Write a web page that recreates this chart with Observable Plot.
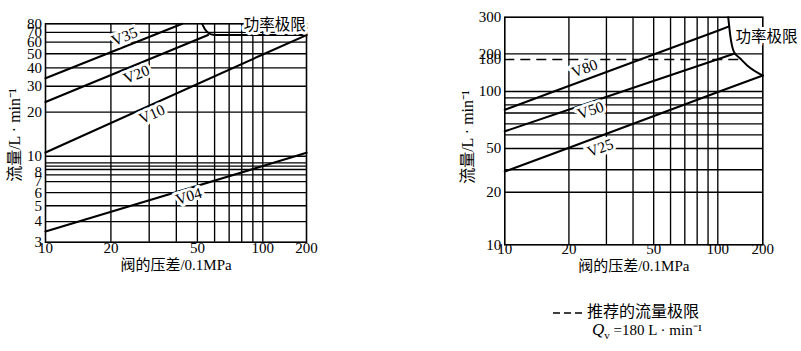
<!DOCTYPE html>
<html><head><meta charset="utf-8">
<script src="https://cdn.jsdelivr.net/npm/d3@7"></script>
<script src="https://cdn.jsdelivr.net/npm/@observablehq/plot@0.6"></script>
<style>
body{margin:0;background:#fff;}
#wrap{position:relative;width:801px;height:351px;overflow:hidden;background:#fff;font-family:'Liberation Serif','Noto Sans CJK SC',serif;color:#000;}
#left{position:absolute;left:0;top:0;}
#right{position:absolute;left:400px;top:0;}
.leg{position:absolute;white-space:nowrap;line-height:1;}
.ylab{position:absolute;white-space:nowrap;line-height:1;font-size:16px;transform:translate(-50%,-50%) rotate(-90deg);}
</style></head><body>
<div id="wrap"><div id="left"></div><div id="right"></div>
<div class="ylab" id="ylabL" style="left:14.5px;top:135px;"></div>
<div class="ylab" id="ylabR" style="left:468px;top:137px;"></div>
<div class="leg" id="leg1" style="left:552px;top:302px;font-size:16px;font-family:'Noto Sans CJK SC',sans-serif;">
<svg width="32" height="10" style="vertical-align:middle;margin-right:3px"><line x1="1" y1="5" x2="31" y2="5" stroke="#000" stroke-width="1.5" stroke-dasharray="7,4"/></svg><span id="legText1"></span></div>
<div class="leg" id="leg2" style="left:592px;top:321px;font-size:15px;"><i style="font-size:17px">Q</i><sub style="font-size:11px">v</sub> <span id="legText2"></span></div>
</div>
<script>
// ---------- Left chart data ----------
const leftXTicks = [10, 20, 50, 100, 200];
const leftYTicks = [3, 4, 5, 6, 7, 8, 10, 20, 30, 40, 50, 60, 70, 80];
const leftXGrid = [20, 30, 40, 50, 60, 70, 80, 90, 100];
const leftYGrid = [4, 5, 6, 7, 7.7, 8.3, 8.7, 9.1, 10, 20, 30, 40, 50, 60, 70];
const leftSeries = ["V35", "V20", "V10", "V04"];
const leftSeriesX = [[10, 42.6], [10, 56], [10, 100, 200], [10, 100, 167, 200]];
const leftSeriesY = [[34, 80], [23.4, 67], [10.6, 49.4, 67], [3.49, 8.72, 10, 10.55]];
const leftLimitX = [52.6, 54, 56, 59, 63, 200];
const leftLimitY = [80, 74, 69.5, 67.3, 67, 67];
const leftLabelX = [23.1, 26.2, 30.9, 45.6];
const leftLabelY = [65.5, 36.1, 19.3, 5.7];
const leftLimitLabel = {x: 121, y: 77.9, text: "功率极限"};

// ---------- Right chart data ----------
const rightXTicks = [10, 20, 50, 100, 200];
const rightYTicks = [10, 20, 50, 100, 180, 200, 300];
const rightXGrid = [20, 30, 40, 50, 60, 70, 80, 90, 100];
const rightYGrid = [20, 32, 50, 59, 67.5, 77, 85, 92.5, 100, 200];
const rightSeries = ["V80", "V50", "V25"];
const rightSeriesX = [[10, 17, 51.1, 100, 119], [10, 35.6, 100, 128], [10, 19.6, 102.5, 200]];
const rightSeriesY = [[80, 100, 200, 258, 271], [61.6, 100, 181, 200], [30.8, 50, 100, 134]];
const rightLimitX = [117.4, 121.6, 128, 141.9, 157.3, 200];
const rightLimitY = [300, 240.5, 205, 182.4, 161.3, 134];
const recommendedX = [10, 143];
const recommendedY = 180;
const rightLabelX = [23.7, 25.3, 28.1];
const rightLabelY = [152.6, 79.4, 50.3];
const rightLimitLabel = {x: 212, y: 242, text: "功率极限"};

const xAxisLabel = "阀的压差/0.1MPa";
const yAxisLabel = "流量/L · min⁻¹";
const legendLine1 = "推荐的流量极限";
const legendLine2 = "=180 L · min⁻¹";

// ---------- helpers ----------
const serif = "Liberation Serif, Noto Sans CJK SC, serif";
const cjk = "Noto Sans CJK SC, Liberation Serif, sans-serif";
function table(names, xs, ys) {
  return names.flatMap((s, i) => xs[i].map((x, j) => ({s, x, y: ys[i][j]})));
}
function pairs(xs, ys) { return xs.map((x, i) => ({x, y: ys[i]})); }

function chart(cfg) {
  const lines = table(cfg.series, cfg.sx, cfg.sy);
  const labels = cfg.series.map((s, i) => ({s, x: cfg.lx[i], y: cfg.ly[i]}));
  const marks = [
    Plot.ruleX(cfg.xGrid, {stroke: "#000", strokeWidth: 1.35}),
    Plot.ruleY(cfg.yGrid, {stroke: "#000", strokeWidth: 1.35}),
    Plot.frame({stroke: "#000", strokeWidth: 1.6}),
    ...(cfg.extra || []),
    Plot.line(lines, {x: "x", y: "y", z: "s", stroke: "#000", strokeWidth: 2.1}),
    Plot.line(pairs(cfg.limX, cfg.limY), {x: "x", y: "y", curve: "monotone-x", stroke: "#000", strokeWidth: 2}),
    ...labels.map((d, i) => Plot.text([d], {x: "x", y: "y", text: "s", rotate: cfg.angles[i],
      fontSize: 15.5, fontFamily: serif, fill: "#000", stroke: "white", strokeWidth: 6})),
    Plot.text([cfg.limLabel], {x: "x", y: "y", text: "text", fontSize: 15.5, fontFamily: cjk,
      fill: "#000", stroke: "white", strokeWidth: 6}),
    Plot.text(cfg.yTicks, {y: d => d, frameAnchor: "left", text: d => String(d), textAnchor: "end",
      dx: -3.5, fontSize: 15, fontFamily: serif, fill: "#000"}),
    Plot.text(cfg.xTicks, {x: d => d, frameAnchor: "bottom", text: d => String(d),
      dy: cfg.xTickDy, fontSize: 15, fontFamily: serif, fill: "#000"}),
    Plot.text([xAxisLabel], {frameAnchor: "bottom", text: d => d, dy: cfg.xLabelDy,
      fontSize: 15, fontFamily: serif, fill: "#000"})
  ];
  return Plot.plot({
    width: cfg.width, height: 290,
    marginLeft: cfg.xr[0], marginRight: cfg.width - cfg.xr[2],
    marginTop: cfg.yr[cfg.yr.length - 1], marginBottom: 290 - cfg.yr[0],
    x: {type: "log", domain: cfg.xd, range: cfg.xr, axis: null},
    y: {type: "log", domain: cfg.yd, range: cfg.yr, axis: null},
    style: {background: "white", color: "black", fontFamily: serif, overflow: "visible"},
    marks
  });
}

document.getElementById("left").appendChild(chart({
  width: 400,
  xd: [10, 100, 200], xr: [45, 262.3, 306],
  yd: [3, 10, 80], yr: [241.7, 155.7, 23.3],
  xGrid: leftXGrid, yGrid: leftYGrid, xTicks: leftXTicks, yTicks: leftYTicks,
  series: leftSeries, sx: leftSeriesX, sy: leftSeriesY,
  limX: leftLimitX, limY: leftLimitY, limLabel: leftLimitLabel,
  lx: leftLabelX, ly: leftLabelY, angles: [-22, -22, -24, -17],
  xTickDy: 11, xLabelDy: 28
}));

document.getElementById("right").appendChild(chart({
  width: 401,
  xd: [10, 100, 200], xr: [104.3, 317.3, 362.3],
  yd: [10, 20, 50, 100, 200, 300], yr: [244.3, 191.7, 148, 91, 53.3, 16.7],
  xGrid: rightXGrid, yGrid: rightYGrid, xTicks: rightXTicks, yTicks: rightYTicks,
  series: rightSeries, sx: rightSeriesX, sy: rightSeriesY,
  limX: rightLimitX, limY: rightLimitY, limLabel: rightLimitLabel,
  lx: rightLabelX, ly: rightLabelY, angles: [-20.5, -18.7, -20.5],
  extra: [Plot.ruleY([recommendedY], {x1: recommendedX[0], x2: recommendedX[1], stroke: "#000",
    strokeWidth: 1.4, strokeDasharray: "10,6"})],
  xTickDy: 9, xLabelDy: 26
}));

document.getElementById("ylabL").textContent = yAxisLabel;
document.getElementById("ylabR").textContent = yAxisLabel;
document.getElementById("legText1").textContent = legendLine1;
document.getElementById("legText2").textContent = legendLine2;
</script>
</body></html>
